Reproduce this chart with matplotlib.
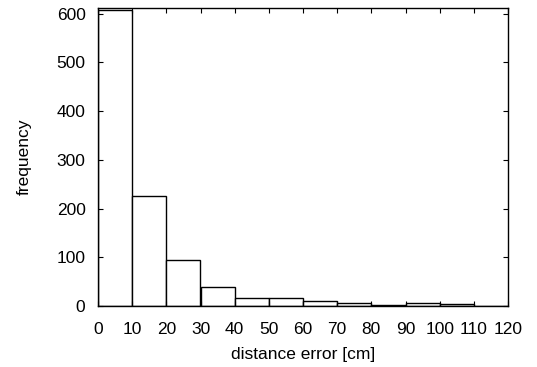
import matplotlib
matplotlib.use("Agg")
import matplotlib.pyplot as plt

bin_edges_left = [0, 10, 20, 30, 40, 50, 60, 70, 80, 90, 100, 110]
frequency = [608, 226, 94, 38, 16, 16, 10, 7, 3, 6, 5, 0]
x_ticks = [0, 10, 20, 30, 40, 50, 60, 70, 80, 90, 100, 110, 120]
y_ticks = [0, 100, 200, 300, 400, 500, 600]

plt.rcParams['font.family'] = ['Liberation Sans', 'DejaVu Sans']
fs = 12.5

fig = plt.figure(figsize=(5.37, 3.67), dpi=100)
ax = fig.add_axes([98/537, 1-306/367, (508-98)/537, (306-8.3)/367])

ax.bar(bin_edges_left, frequency, width=10, align='edge',
       facecolor='white', edgecolor='black', linewidth=1.0)

ax.set_xlim(0, 120)
ax.set_ylim(0, 611)
ax.set_xticks(x_ticks)
ax.set_yticks(y_ticks)
ax.tick_params(direction='in', length=3.5, width=0.8, top=True, right=True,
               labelsize=fs)
ax.tick_params(axis='x', pad=11.5)
ax.tick_params(axis='y', pad=9)
for s in ax.spines.values():
    s.set_linewidth(1.0)
ax.set_xlabel('distance error [cm]', fontsize=fs, labelpad=7)
ax.set_ylabel('frequency', fontsize=fs, labelpad=18)

fig.savefig('out.png', dpi=100)
